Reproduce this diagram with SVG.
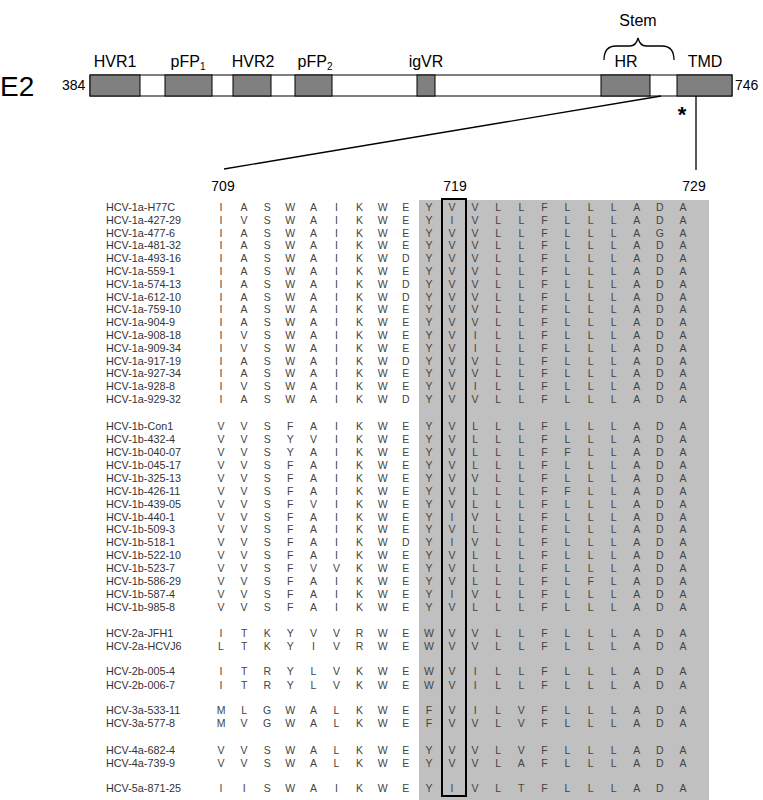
<svg xmlns="http://www.w3.org/2000/svg" width="763" height="800" viewBox="0 0 763 800">
<style>
text{font-family:"Liberation Sans",Arial,sans-serif;}
.lab{font-size:16px;fill:#000;}
.num{font-size:14px;fill:#000;}
.nm{font-size:10.8px;fill:#333;}
.r{font-size:10.5px;fill:#444;text-anchor:middle;}
.g{fill:#808080;stroke:#000;stroke-width:1;}
.w{fill:#fff;stroke:#000;stroke-width:1;}
</style>
<rect width="763" height="800" fill="#fff"/>
<g id="e2-bar">
<text x="0" y="96" style="font-size:28px">E2</text>
<text x="62" y="90" class="num" font-size="13">384</text>
<text x="735" y="90" class="num" font-size="13">746</text>
<rect x="90" y="75" width="642" height="21" class="w"/>
<rect x="90" y="75" width="50" height="21" class="g"/>
<rect x="165" y="75" width="47" height="21" class="g"/>
<rect x="233" y="75" width="38" height="21" class="g"/>
<rect x="295" y="75" width="37" height="21" class="g"/>
<rect x="417" y="75" width="18" height="21" class="g"/>
<rect x="601" y="75" width="49" height="21" class="g"/>
<rect x="677" y="75" width="55" height="21" class="g"/>
<g class="lab" text-anchor="middle">
<text x="115" y="67">HVR1</text>
<text x="188" y="67">pFP<tspan font-size="10" dy="3">1</tspan></text>
<text x="253" y="67">HVR2</text>
<text x="315" y="67">pFP<tspan font-size="10" dy="3">2</tspan></text>
<text x="426" y="67">igVR</text>
<text x="626" y="67">HR</text>
<text x="705" y="67">TMD</text>
<text x="638" y="26">Stem</text>
</g>
<path d="M604,60 Q604,46 616,46 L630,46 Q636,46 638,38 Q640,46 646,46 L662,46 Q674,46 674,60" fill="none" stroke="#000" stroke-width="1.3"/>
<text x="682" y="122" text-anchor="middle" style="font-size:22px;font-weight:bold">*</text>
</g>
<g id="connectors" stroke="#000" stroke-width="1.3" fill="none">
<line x1="661" y1="96" x2="224" y2="169"/>
<line x1="696" y1="96" x2="696" y2="170"/>
</g>
<g id="alignment">
<rect x="419" y="200" width="290" height="600" fill="#c0c0c0"/>
<rect x="442" y="199" width="24" height="597" fill="none" stroke="#000" stroke-width="2"/>
<g class="num" text-anchor="middle">
<text x="223" y="191">709</text>
<text x="455" y="191">719</text>
<text x="694" y="191">729</text>
</g>
<g id="names" class="nm">
<text x="106" y="211">HCV-1a-H77C</text>
<text x="106" y="223.8">HCV-1a-427-29</text>
<text x="106" y="236.6">HCV-1a-477-6</text>
<text x="106" y="249.4">HCV-1a-481-32</text>
<text x="106" y="262.2">HCV-1a-493-16</text>
<text x="106" y="275">HCV-1a-559-1</text>
<text x="106" y="287.8">HCV-1a-574-13</text>
<text x="106" y="300.6">HCV-1a-612-10</text>
<text x="106" y="313.4">HCV-1a-759-10</text>
<text x="106" y="326.2">HCV-1a-904-9</text>
<text x="106" y="339">HCV-1a-908-18</text>
<text x="106" y="351.8">HCV-1a-909-34</text>
<text x="106" y="364.6">HCV-1a-917-19</text>
<text x="106" y="377.4">HCV-1a-927-34</text>
<text x="106" y="390.2">HCV-1a-928-8</text>
<text x="106" y="403">HCV-1a-929-32</text>
<text x="106" y="430">HCV-1b-Con1</text>
<text x="106" y="442.9">HCV-1b-432-4</text>
<text x="106" y="455.9">HCV-1b-040-07</text>
<text x="106" y="468.8">HCV-1b-045-17</text>
<text x="106" y="481.7">HCV-1b-325-13</text>
<text x="106" y="494.7">HCV-1b-426-11</text>
<text x="106" y="507.6">HCV-1b-439-05</text>
<text x="106" y="520.5">HCV-1b-440-1</text>
<text x="106" y="533.4">HCV-1b-509-3</text>
<text x="106" y="546.4">HCV-1b-518-1</text>
<text x="106" y="559.3">HCV-1b-522-10</text>
<text x="106" y="572.2">HCV-1b-523-7</text>
<text x="106" y="585.2">HCV-1b-586-29</text>
<text x="106" y="598.1">HCV-1b-587-4</text>
<text x="106" y="611">HCV-1b-985-8</text>
<text x="106" y="637">HCV-2a-JFH1</text>
<text x="106" y="650">HCV-2a-HCVJ6</text>
<text x="106" y="675">HCV-2b-005-4</text>
<text x="106" y="689">HCV-2b-006-7</text>
<text x="106" y="714">HCV-3a-533-11</text>
<text x="106" y="727">HCV-3a-577-8</text>
<text x="106" y="754">HCV-4a-682-4</text>
<text x="106" y="767">HCV-4a-739-9</text>
<text x="106" y="792">HCV-5a-871-25</text>
</g>
<g id="residues" class="r">
<text y="211" x="221 244.1 267.2 290.3 313.4 336.5 359.6 382.7 405.8 428.9 452 475.1 498.2 521.3 544.4 567.5 590.6 613.7 636.8 659.9 683">IASWAIKWEYVVLLFLLLADA</text>
<text y="223.8" x="221 244.1 267.2 290.3 313.4 336.5 359.6 382.7 405.8 428.9 452 475.1 498.2 521.3 544.4 567.5 590.6 613.7 636.8 659.9 683">IVSWAIKWEYIVLLFLLLADA</text>
<text y="236.6" x="221 244.1 267.2 290.3 313.4 336.5 359.6 382.7 405.8 428.9 452 475.1 498.2 521.3 544.4 567.5 590.6 613.7 636.8 659.9 683">IASWAIKWEYVVLLFLLLAGA</text>
<text y="249.4" x="221 244.1 267.2 290.3 313.4 336.5 359.6 382.7 405.8 428.9 452 475.1 498.2 521.3 544.4 567.5 590.6 613.7 636.8 659.9 683">IASWAIKWEYVVLLFLLLADA</text>
<text y="262.2" x="221 244.1 267.2 290.3 313.4 336.5 359.6 382.7 405.8 428.9 452 475.1 498.2 521.3 544.4 567.5 590.6 613.7 636.8 659.9 683">IASWAIKWDYVVLLFLLLADA</text>
<text y="275" x="221 244.1 267.2 290.3 313.4 336.5 359.6 382.7 405.8 428.9 452 475.1 498.2 521.3 544.4 567.5 590.6 613.7 636.8 659.9 683">IASWAIKWEYVVLLFLLLADA</text>
<text y="287.8" x="221 244.1 267.2 290.3 313.4 336.5 359.6 382.7 405.8 428.9 452 475.1 498.2 521.3 544.4 567.5 590.6 613.7 636.8 659.9 683">IASWAIKWDYVVLLFLLLADA</text>
<text y="300.6" x="221 244.1 267.2 290.3 313.4 336.5 359.6 382.7 405.8 428.9 452 475.1 498.2 521.3 544.4 567.5 590.6 613.7 636.8 659.9 683">IASWAIKWDYVVLLFLLLADA</text>
<text y="313.4" x="221 244.1 267.2 290.3 313.4 336.5 359.6 382.7 405.8 428.9 452 475.1 498.2 521.3 544.4 567.5 590.6 613.7 636.8 659.9 683">IASWAIKWEYVVLLFLLLADA</text>
<text y="326.2" x="221 244.1 267.2 290.3 313.4 336.5 359.6 382.7 405.8 428.9 452 475.1 498.2 521.3 544.4 567.5 590.6 613.7 636.8 659.9 683">IASWAIKWEYVVLLFLLLADA</text>
<text y="339" x="221 244.1 267.2 290.3 313.4 336.5 359.6 382.7 405.8 428.9 452 475.1 498.2 521.3 544.4 567.5 590.6 613.7 636.8 659.9 683">IVSWAIKWEYVILLFLLLADA</text>
<text y="351.8" x="221 244.1 267.2 290.3 313.4 336.5 359.6 382.7 405.8 428.9 452 475.1 498.2 521.3 544.4 567.5 590.6 613.7 636.8 659.9 683">IVSWAIKWEYVILLFLLLADA</text>
<text y="364.6" x="221 244.1 267.2 290.3 313.4 336.5 359.6 382.7 405.8 428.9 452 475.1 498.2 521.3 544.4 567.5 590.6 613.7 636.8 659.9 683">IASWAIKWDYVVLLFLLLADA</text>
<text y="377.4" x="221 244.1 267.2 290.3 313.4 336.5 359.6 382.7 405.8 428.9 452 475.1 498.2 521.3 544.4 567.5 590.6 613.7 636.8 659.9 683">IASWAIKWEYVVLLFLLLADA</text>
<text y="390.2" x="221 244.1 267.2 290.3 313.4 336.5 359.6 382.7 405.8 428.9 452 475.1 498.2 521.3 544.4 567.5 590.6 613.7 636.8 659.9 683">IVSWAIKWEYVILLFLLLADA</text>
<text y="403" x="221 244.1 267.2 290.3 313.4 336.5 359.6 382.7 405.8 428.9 452 475.1 498.2 521.3 544.4 567.5 590.6 613.7 636.8 659.9 683">IASWAIKWDYVVLLFLLLADA</text>
<text y="430" x="221 244.1 267.2 290.3 313.4 336.5 359.6 382.7 405.8 428.9 452 475.1 498.2 521.3 544.4 567.5 590.6 613.7 636.8 659.9 683">VVSFAIKWEYVLLLFLLLADA</text>
<text y="442.9" x="221 244.1 267.2 290.3 313.4 336.5 359.6 382.7 405.8 428.9 452 475.1 498.2 521.3 544.4 567.5 590.6 613.7 636.8 659.9 683">VVSYVIKWEYVLLLFLLLADA</text>
<text y="455.9" x="221 244.1 267.2 290.3 313.4 336.5 359.6 382.7 405.8 428.9 452 475.1 498.2 521.3 544.4 567.5 590.6 613.7 636.8 659.9 683">VVSYAIKWEYVLLLFFLLADA</text>
<text y="468.8" x="221 244.1 267.2 290.3 313.4 336.5 359.6 382.7 405.8 428.9 452 475.1 498.2 521.3 544.4 567.5 590.6 613.7 636.8 659.9 683">VVSFAIKWEYVLLLFLLLADA</text>
<text y="481.7" x="221 244.1 267.2 290.3 313.4 336.5 359.6 382.7 405.8 428.9 452 475.1 498.2 521.3 544.4 567.5 590.6 613.7 636.8 659.9 683">VVSFAIKWEYVVLLFLLLADA</text>
<text y="494.7" x="221 244.1 267.2 290.3 313.4 336.5 359.6 382.7 405.8 428.9 452 475.1 498.2 521.3 544.4 567.5 590.6 613.7 636.8 659.9 683">VVSFAIKWEYVLLLFFLLADA</text>
<text y="507.6" x="221 244.1 267.2 290.3 313.4 336.5 359.6 382.7 405.8 428.9 452 475.1 498.2 521.3 544.4 567.5 590.6 613.7 636.8 659.9 683">VVSFVIKWEYVLLLFLLLADA</text>
<text y="520.5" x="221 244.1 267.2 290.3 313.4 336.5 359.6 382.7 405.8 428.9 452 475.1 498.2 521.3 544.4 567.5 590.6 613.7 636.8 659.9 683">VVSFAIKWEYIVLLFLLLADA</text>
<text y="533.4" x="221 244.1 267.2 290.3 313.4 336.5 359.6 382.7 405.8 428.9 452 475.1 498.2 521.3 544.4 567.5 590.6 613.7 636.8 659.9 683">VVSFAIKWEYVLLLFLLLADA</text>
<text y="546.4" x="221 244.1 267.2 290.3 313.4 336.5 359.6 382.7 405.8 428.9 452 475.1 498.2 521.3 544.4 567.5 590.6 613.7 636.8 659.9 683">VVSFAIKWDYIVLLFLLLADA</text>
<text y="559.3" x="221 244.1 267.2 290.3 313.4 336.5 359.6 382.7 405.8 428.9 452 475.1 498.2 521.3 544.4 567.5 590.6 613.7 636.8 659.9 683">VVSFAIKWEYVLLLFLLLADA</text>
<text y="572.2" x="221 244.1 267.2 290.3 313.4 336.5 359.6 382.7 405.8 428.9 452 475.1 498.2 521.3 544.4 567.5 590.6 613.7 636.8 659.9 683">VVSFVVKWEYVLLLFLLLADA</text>
<text y="585.2" x="221 244.1 267.2 290.3 313.4 336.5 359.6 382.7 405.8 428.9 452 475.1 498.2 521.3 544.4 567.5 590.6 613.7 636.8 659.9 683">VVSFAIKWEYVLLLFLFLADA</text>
<text y="598.1" x="221 244.1 267.2 290.3 313.4 336.5 359.6 382.7 405.8 428.9 452 475.1 498.2 521.3 544.4 567.5 590.6 613.7 636.8 659.9 683">VVSFAIKWEYIVLLFLLLADA</text>
<text y="611" x="221 244.1 267.2 290.3 313.4 336.5 359.6 382.7 405.8 428.9 452 475.1 498.2 521.3 544.4 567.5 590.6 613.7 636.8 659.9 683">VVSFAIKWEYVLLLFLLLADA</text>
<text y="637" x="221 244.1 267.2 290.3 313.4 336.5 359.6 382.7 405.8 428.9 452 475.1 498.2 521.3 544.4 567.5 590.6 613.7 636.8 659.9 683">ITKYVVRWEWVVLLFLLLADA</text>
<text y="650" x="221 244.1 267.2 290.3 313.4 336.5 359.6 382.7 405.8 428.9 452 475.1 498.2 521.3 544.4 567.5 590.6 613.7 636.8 659.9 683">LTKYIVRWEWVVLLFLLLADA</text>
<text y="675" x="221 244.1 267.2 290.3 313.4 336.5 359.6 382.7 405.8 428.9 452 475.1 498.2 521.3 544.4 567.5 590.6 613.7 636.8 659.9 683">ITRYLVKWEWVILLFLLLADA</text>
<text y="689" x="221 244.1 267.2 290.3 313.4 336.5 359.6 382.7 405.8 428.9 452 475.1 498.2 521.3 544.4 567.5 590.6 613.7 636.8 659.9 683">ITRYLVKWEWVILLFLLLADA</text>
<text y="714" x="221 244.1 267.2 290.3 313.4 336.5 359.6 382.7 405.8 428.9 452 475.1 498.2 521.3 544.4 567.5 590.6 613.7 636.8 659.9 683">MLGWALKWEFVILVFLLLADA</text>
<text y="727" x="221 244.1 267.2 290.3 313.4 336.5 359.6 382.7 405.8 428.9 452 475.1 498.2 521.3 544.4 567.5 590.6 613.7 636.8 659.9 683">MVGWALKWEFVVLVFLLLADA</text>
<text y="754" x="221 244.1 267.2 290.3 313.4 336.5 359.6 382.7 405.8 428.9 452 475.1 498.2 521.3 544.4 567.5 590.6 613.7 636.8 659.9 683">VVSWALKWEYVVLVFLLLADA</text>
<text y="767" x="221 244.1 267.2 290.3 313.4 336.5 359.6 382.7 405.8 428.9 452 475.1 498.2 521.3 544.4 567.5 590.6 613.7 636.8 659.9 683">VVSWALKWEYVVLAFLLLADA</text>
<text y="792" x="221 244.1 267.2 290.3 313.4 336.5 359.6 382.7 405.8 428.9 452 475.1 498.2 521.3 544.4 567.5 590.6 613.7 636.8 659.9 683">IISWAIKWEYIVLTFLLLADA</text>
</g>
</g>
</svg>
